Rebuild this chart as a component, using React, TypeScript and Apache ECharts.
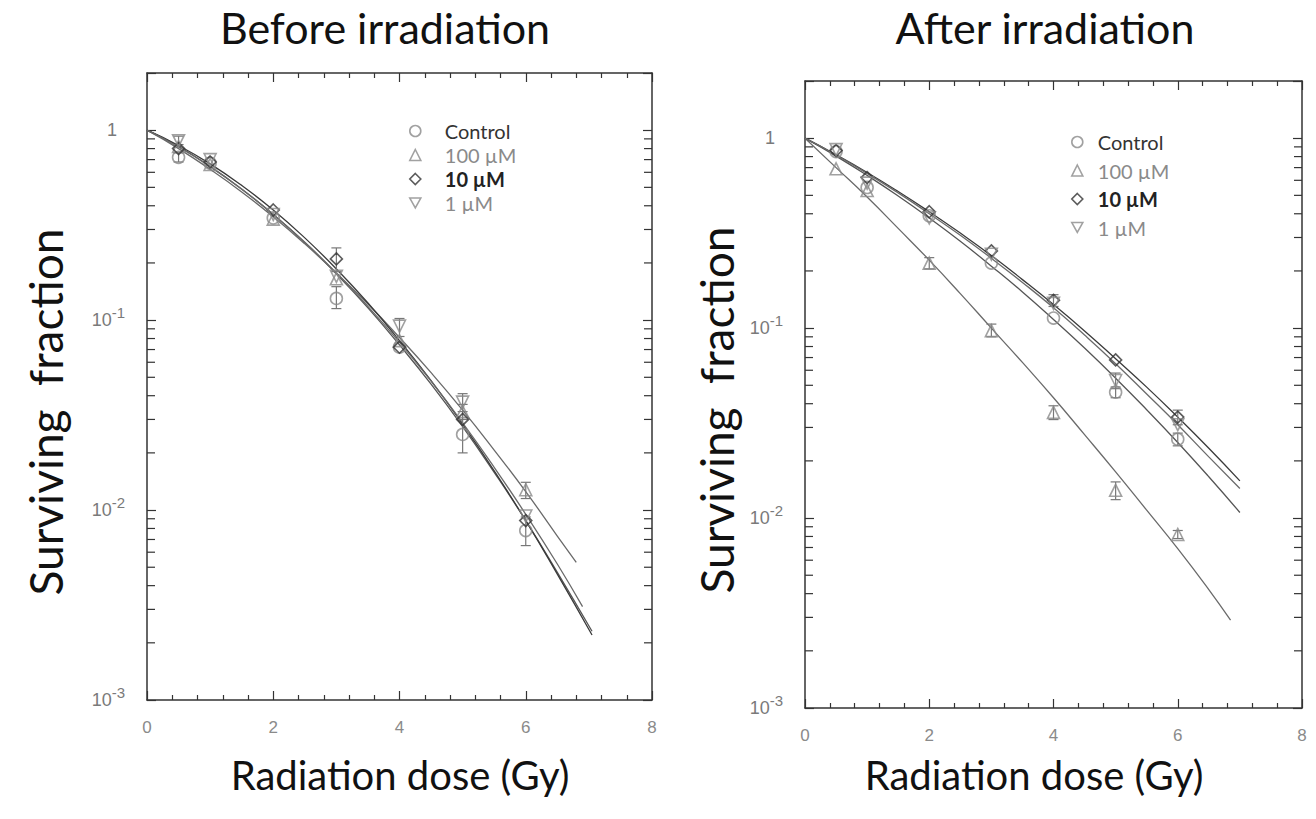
import React, { useEffect, useRef } from 'react';
import * as echarts from 'echarts';

// ---------- data ----------
const NAMES = ['Control', '100 µM', '10 µM', '1 µM'];
const DOSES = [0.5, 1, 2, 3, 4, 5, 6];

// Before irradiation – measured points
const beforeControl = [0.72, 0.67, 0.345, 0.13, 0.072, 0.025, 0.0078];
const before100 = [0.82, 0.66, 0.34, 0.165, 0.078, 0.033, 0.0128];
const before10 = [0.8, 0.68, 0.38, 0.21, 0.072, 0.03, 0.0088];
const before1 = [0.88, 0.7, 0.36, 0.17, 0.093, 0.037, 0.0093];

// After irradiation – measured points
const afterControl = [0.85, 0.55, 0.39, 0.22, 0.113, 0.046, 0.026];
const after100 = [0.69, 0.53, 0.22, 0.097, 0.036, 0.014, 0.0082];
const after10 = [0.86, 0.62, 0.41, 0.255, 0.14, 0.068, 0.034];
const after1 = [0.87, 0.58, 0.38, 0.245, 0.135, 0.053, 0.031];

// error bars [dose, low, high]
const beforeErrors = [
  [0.5, 0.68, 0.76], [3, 0.115, 0.15], [5, 0.02, 0.03], [6, 0.0065, 0.0092],
  [3, 0.18, 0.24], [4, 0.082, 0.102], [5, 0.033, 0.041], [0.5, 0.84, 0.93],
  [6, 0.0115, 0.014], [5, 0.03, 0.036],
];
const afterErrors = [
  [4, 0.13, 0.15], [6, 0.031, 0.037], [2, 0.205, 0.235], [3, 0.09, 0.105],
  [4, 0.033, 0.039], [5, 0.0125, 0.0155], [6, 0.0078, 0.0086],
  [6, 0.024, 0.028], [5, 0.043, 0.049], [5, 0.048, 0.058],
];

// fitted curves [dose, surviving fraction]
const beforeFitControl = [[0, 1], [0.5, 0.82], [1, 0.645], [1.5, 0.49], [2, 0.36], [2.5, 0.256], [3, 0.175], [3.5, 0.116], [4, 0.074], [4.5, 0.046], [5, 0.0275], [5.5, 0.0158], [6, 0.0088], [6.5, 0.0047], [7.05, 0.0023]];
const beforeFit10 = [[0, 1], [0.5, 0.831], [1, 0.665], [1.5, 0.512], [2, 0.38], [2.5, 0.271], [3, 0.186], [3.5, 0.123], [4, 0.078], [4.5, 0.048], [5, 0.0283], [5.5, 0.0161], [6, 0.0088], [6.5, 0.0046], [7.05, 0.0022]];
const beforeFit100 = [[0, 1], [0.5, 0.8], [1, 0.622], [1.5, 0.473], [2, 0.35], [2.5, 0.252], [3, 0.177], [3.5, 0.1216], [4, 0.081], [4.5, 0.0529], [5, 0.0336], [5.5, 0.0207], [6, 0.0125], [6.5, 0.0073], [6.8, 0.0053]];
const beforeFit1 = [[0, 1], [0.5, 0.815], [1, 0.642], [1.5, 0.489], [2, 0.36], [2.5, 0.257], [3, 0.177], [3.5, 0.118], [4, 0.0764], [4.5, 0.0477], [5, 0.0288], [5.5, 0.0168], [6, 0.0095], [6.5, 0.0052], [6.9, 0.0031]];

const afterFit100 = [[0, 1], [0.5, 0.7], [1, 0.49], [1.5, 0.335], [2, 0.228], [2.5, 0.152], [3, 0.1], [3.5, 0.066], [4, 0.043], [4.5, 0.0275], [5, 0.0175], [5.5, 0.011], [6, 0.0069], [6.5, 0.0042], [6.85, 0.0029]];
const afterFitControl = [[0, 1], [0.5, 0.805], [1, 0.637], [1.5, 0.496], [2, 0.38], [2.5, 0.2865], [3, 0.212], [3.5, 0.155], [4, 0.111], [4.5, 0.0785], [5, 0.0545], [5.5, 0.0372], [6, 0.025], [6.5, 0.0165], [7, 0.0107]];
const afterFit10 = [[0, 1], [0.5, 0.818], [1, 0.66], [1.5, 0.524], [2, 0.41], [2.5, 0.3166], [3, 0.241], [3.5, 0.18], [4, 0.133], [4.5, 0.0967], [5, 0.069], [5.5, 0.0489], [6, 0.034], [6.5, 0.0233], [7, 0.0157]];
const afterFit1 = [[0, 1], [0.5, 0.815], [1, 0.652], [1.5, 0.515], [2, 0.4], [2.5, 0.308], [3, 0.233], [3.5, 0.174], [4, 0.128], [4.5, 0.092], [5, 0.065], [5.5, 0.045], [6, 0.031], [6.5, 0.021], [7, 0.0143]];

// log-axis minor ticks
const Y_MINOR = [
  0.002, 0.003, 0.004, 0.005, 0.006, 0.007, 0.008, 0.009,
  0.02, 0.03, 0.04, 0.05, 0.06, 0.07, 0.08, 0.09,
  0.2, 0.3, 0.4, 0.5, 0.6, 0.7, 0.8, 0.9,
];

const TITLES = ['Before irradiation', 'After irradiation'];
const X_TITLE = 'Radiation dose (Gy)';
const Y_TITLE = 'Surviving  fraction';

// ---------- styles ----------
const MARK: Record<string, any> = {
  'Control': { symbol: 'circle', rotate: 0, color: '#8a8a8a', size: 12, icon: 'circle' },
  '100 µM': { symbol: 'triangle', rotate: 0, color: '#8a8a8a', size: 12, icon: 'triangle' },
  '10 µM': { symbol: 'diamond', rotate: 0, color: '#333', size: 12, icon: 'diamond' },
  '1 µM': { symbol: 'triangle', rotate: 180, color: '#8a8a8a', size: 12, icon: 'path://M0,0L10,0L5,9Z' },
};
const TITLE_FONT = 'Lato, "Open Sans", sans-serif';
const TICK_FONT = '"Liberation Sans", Arial, sans-serif';
const AXIS_COLOR = '#333';

const logFmt = (v: number) => {
  const l = Math.log10(v);
  const e = Math.round(l);
  if (Math.abs(l - e) > 1e-6) return '';
  if (e === 0) return '{one|1}';
  return `{b|10}{s|${e}}`;
};

const logRich = {
  b: { fontSize: 18, color: '#7a7a7a', fontFamily: TICK_FONT },
  s: { fontSize: 15, color: '#7a7a7a', fontFamily: TICK_FONT, padding: [0, 0, 16, 0] },
  one: { fontSize: 18, color: '#7a7a7a', fontFamily: TICK_FONT, padding: [0, 8, 0, 0] },
};

function App() {
  const ref = useRef<HTMLDivElement>(null);
  useEffect(() => {
    if (!ref.current) return;
    const chart = echarts.init(ref.current, null, { renderer: 'svg' });

    const grids = [
      { left: 147, top: 73, width: 505, height: 627 },
      { left: 805, top: 81, width: 497, height: 627 },
    ];

    const xAxes: any[] = [];
    const yAxes: any[] = [];
    grids.forEach((_, gi) => {
      ['bottom', 'top'].forEach((pos) => {
        xAxes.push({
          type: 'value', gridIndex: gi, position: pos, min: 0, max: 8, interval: 2,
          axisLine: { show: true, onZero: false, lineStyle: { color: AXIS_COLOR, width: 1.5 } },
          axisTick: { show: true, inside: true, length: 9, lineStyle: { color: AXIS_COLOR, width: 1.2 } },
          minorTick: { show: true, splitNumber: 5, length: 5, lineStyle: { color: AXIS_COLOR, width: 1.2 } },
          splitLine: { show: false },
          axisLabel: {
            show: pos === 'bottom', margin: 19, color: '#8a8a8a', fontSize: 17, fontFamily: TICK_FONT,
          },
        });
      });
      ['left', 'right'].forEach((pos) => {
        yAxes.push({
          type: 'log', logBase: 10, gridIndex: gi, position: pos, min: 0.001, max: 2,
          axisLine: { show: true, onZero: false, lineStyle: { color: AXIS_COLOR, width: 1.5 } },
          axisTick: { show: true, inside: true, length: 9, lineStyle: { color: AXIS_COLOR, width: 1.2 } },
          splitLine: { show: false },
          axisLabel: {
            show: pos === 'left', margin: 22, formatter: logFmt, rich: logRich,
          },
        });
      });
    });

    const series: any[] = [];
    const fits = [
      [beforeFitControl, beforeFit100, beforeFit10, beforeFit1],
      [afterFitControl, afterFit100, afterFit10, afterFit1],
    ];
    const pts = [
      [beforeControl, before100, before10, before1],
      [afterControl, after100, after10, after1],
    ];
    const errs = [beforeErrors, afterErrors];
    const fitColors = ['#555', '#6a6a6a', '#3a3a3a', '#6a6a6a'];

    [0, 1].forEach((gi) => {
      const xi = gi * 2;
      const yi = gi * 2;
      // minor ticks on log axes
      series.push({
        type: 'custom', name: `minor-${gi}`, xAxisIndex: xi, yAxisIndex: yi, silent: true, z: 1,
        data: Y_MINOR.map((v) => [0, v]),
        renderItem: (params: any, api: any) => {
          const cs = params.coordSys;
          const y = api.coord([0, api.value(1)])[1];
          return {
            type: 'group',
            children: [
              { type: 'line', shape: { x1: cs.x, y1: y, x2: cs.x + 8, y2: y }, style: { stroke: AXIS_COLOR, lineWidth: 1.2 } },
              { type: 'line', shape: { x1: cs.x + cs.width - 8, y1: y, x2: cs.x + cs.width, y2: y }, style: { stroke: AXIS_COLOR, lineWidth: 1.2 } },
            ],
          };
        },
      });
      // fitted curves
      fits[gi].forEach((d, k) => {
        series.push({
          type: 'line', name: `fit-${gi}-${k}`, xAxisIndex: xi, yAxisIndex: yi, data: d,
          smooth: true, showSymbol: false, silent: true, z: 2,
          lineStyle: { color: fitColors[k], width: 1.3 },
        });
      });
      // error bars
      series.push({
        type: 'custom', name: `err-${gi}`, xAxisIndex: xi, yAxisIndex: yi, silent: true, z: 3,
        data: errs[gi], encode: { x: 0, y: [1, 2] },
        renderItem: (params: any, api: any) => {
          const x = api.value(0);
          const lo = api.coord([x, api.value(1)]);
          const hi = api.coord([x, api.value(2)]);
          const st = { stroke: '#777', lineWidth: 1.2 };
          return {
            type: 'group',
            children: [
              { type: 'line', shape: { x1: lo[0], y1: lo[1], x2: hi[0], y2: hi[1] }, style: st },
              { type: 'line', shape: { x1: lo[0] - 5, y1: lo[1], x2: lo[0] + 5, y2: lo[1] }, style: st },
              { type: 'line', shape: { x1: hi[0] - 5, y1: hi[1], x2: hi[0] + 5, y2: hi[1] }, style: st },
            ],
          };
        },
      });
      // measured points
      NAMES.forEach((name, k) => {
        const m = MARK[name];
        series.push({
          type: 'scatter', name, xAxisIndex: xi, yAxisIndex: yi, z: 4,
          data: DOSES.map((d, i) => [d, pts[gi][k][i]]),
          symbol: m.symbol, symbolRotate: m.rotate, symbolSize: m.size,
          itemStyle: { color: 'rgba(255,255,255,0)', borderColor: m.color, borderWidth: 1.6 },
        });
      });
    });

    const mkRich = (pad: number) => ({
      d: { color: '#333', fontSize: 20, fontFamily: TITLE_FONT, padding: [0, 0, 0, pad] },
      g: { color: '#8a8a8a', fontSize: 20, fontFamily: TITLE_FONT, padding: [0, 0, 0, pad] },
      b: { color: '#222', fontSize: 20, fontWeight: 'bold', fontFamily: TITLE_FONT, padding: [0, 0, 0, pad] },
    });
    const legendKey: Record<string, string> = { 'Control': 'd', '100 µM': 'g', '10 µM': 'b', '1 µM': 'g' };
    const legendData = NAMES.map((name) => ({
      name,
      icon: MARK[name].icon,
      itemStyle: { color: 'rgba(255,255,255,0)', borderColor: MARK[name].color, borderWidth: 1.6 },
    }));
    const mkLegend = (left: number, top: number, gap: number, pad: number) => ({
      left, top, orient: 'vertical', itemWidth: 11, itemHeight: 11, itemGap: gap,
      selectedMode: false, data: legendData,
      formatter: (n: string) => `{${legendKey[n]}|${n}}`,
      textStyle: { rich: mkRich(pad) },
    });

    const txt = (text: string, x: number, y: number, size: number, rot = 0) => ({
      type: 'text', x, y, rotation: rot, silent: true,
      style: {
        text, fill: '#111', font: `${size}px ${TITLE_FONT}`,
        textAlign: 'center', textVerticalAlign: 'middle', align: 'center', verticalAlign: 'middle',
      },
    });

    chart.setOption({
      animation: false,
      backgroundColor: '#fff',
      grid: grids,
      xAxis: xAxes,
      yAxis: yAxes,
      legend: [mkLegend(404, 116, 4, 19), mkLegend(1066, 127, 8.5, 10)],
      series,
      graphic: [
        txt(TITLES[0], 385, 27, 43),
        txt(TITLES[1], 1045, 27, 43),
        txt(X_TITLE, 400, 775, 40),
        txt(X_TITLE, 1034, 775, 40),
        txt(Y_TITLE, 45, 412, 46, Math.PI / 2),
        txt(Y_TITLE, 716, 410, 46, Math.PI / 2),
      ],
    });
    return () => chart.dispose();
  }, []);
  return (
    <div
      ref={ref}
      style={{ position: 'fixed', left: 0, top: 0, width: 1316, height: 819, background: '#fff' }}
    />
  );
}

export default App;
